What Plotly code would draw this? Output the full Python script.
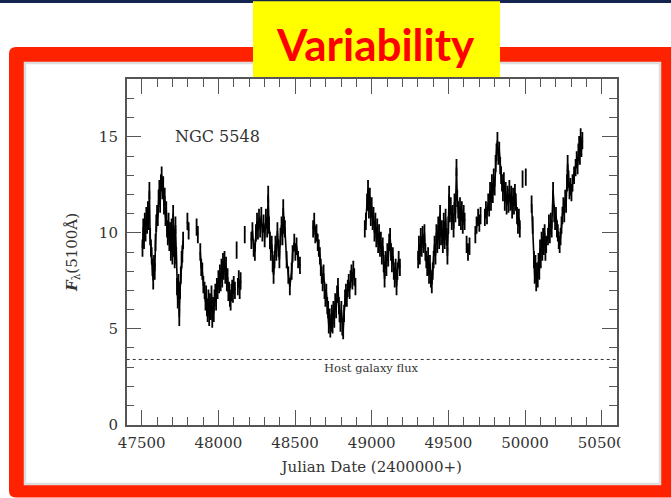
import plotly.graph_objects as go

W, H = 671, 498

# ---------------- data ----------------
jd_s1 = [47505, 47510, 47515, 47520, 47525, 47530, 47535, 47540, 47545, 47550, 47555, 47560, 47565, 47570,
         47575, 47580, 47585, 47590, 47595, 47600, 47605, 47610, 47615, 47620, 47625, 47630, 47635, 47640,
         47645, 47650, 47655, 47660, 47665, 47670, 47675, 47680, 47685, 47690, 47695, 47700, 47705, 47710,
         47715, 47720, 47725, 47730, 47735, 47740, 47745, 47750, 47755, 47760, 47765, 47770]
fx_s1 = [9.2, 10.3, 9.6, 10.6, 10.0, 10.9, 10.4, 11.2, 10.6, 12.2, 9.8, 9.2, 8.8, 8.2,
         7.5, 8.4, 8.0, 9.5, 10.5, 11.0, 10.8, 11.8, 12.3, 11.5, 12.6, 13.0, 12.2, 12.5,
         11.4, 11.9, 10.8, 11.2, 10.2, 9.8, 10.6, 9.5, 10.1, 9.0, 10.3, 8.8, 11.0, 9.2,
         8.6, 10.4, 8.8, 7.2, 6.5, 7.4, 5.6, 7.0, 7.8, 8.6, 8.9, 9.6]

jd_s1b = [47798, 47806]
fx_s1b = [10.6, 10.1]
jd_s1c = [47858, 47866]
fx_s1c = [10.3, 9.9]

jd_s2 = [47882, 47888, 47895, 47902, 47910, 47916, 47920, 47925, 47930, 47935, 47940, 47945, 47950, 47955,
         47960, 47965, 47970, 47975, 47980, 47985, 47990, 47995, 48000, 48005, 48010, 48015, 48020, 48025,
         48030, 48035, 48040, 48045, 48050, 48055, 48060, 48065, 48070, 48075, 48080, 48085, 48090, 48095,
         48100, 48108]
fx_s2 = [9.0, 8.2, 8.0, 7.3, 7.0, 6.4, 6.8, 6.1, 5.8, 6.6, 5.6, 6.4, 5.9, 6.8,
         5.5, 6.2, 5.8, 6.6, 6.9, 6.4, 7.2, 7.0, 7.6, 7.3, 7.9, 7.4, 8.2, 7.6,
         8.5, 8.0, 8.6, 7.8, 8.3, 7.4, 7.7, 6.9, 7.0, 6.6, 6.4, 6.9, 7.1, 6.8,
         7.3, 7.0]
jd_s2b = [48119]
fx_s2b = [9.1]
jd_s2c = [48127, 48133, 48139, 48145]
fx_s2c = [7.2, 7.6, 7.0, 7.5]
jd_s2d = [48172]
fx_s2d = [9.9]

jd_s3 = [48215, 48222, 48230, 48238, 48245, 48252, 48258, 48265, 48272, 48280, 48287, 48295, 48302, 48310,
         48318, 48325, 48330, 48336, 48342, 48348, 48354, 48360, 48366, 48372, 48378, 48385, 48392, 48398,
         48405, 48412, 48418, 48423, 48428, 48434, 48445, 48456, 48466, 48478, 48484, 48495, 48502, 48510,
         48520, 48532]
fx_s3 = [9.6, 10.1, 9.2, 9.0, 10.0, 10.6, 10.1, 10.8, 10.2, 10.9, 10.0, 10.5, 9.7, 10.8,
         10.2, 12.0, 10.4, 9.6, 9.0, 9.4, 8.4, 7.8, 8.6, 9.4, 9.0, 10.1, 9.2, 8.6,
         9.8, 10.4, 9.8, 11.3, 10.4, 10.2, 8.6, 7.8, 7.2, 8.0, 8.9, 9.5, 9.0, 9.3,
         8.6, 8.3]

jd_s4 = [48618, 48625, 48632, 48640, 48648, 48655, 48662, 48668, 48674, 48680, 48686, 48692, 48698, 48704,
         48710, 48716, 48720, 48726, 48730, 48735, 48740, 48745, 48750, 48756, 48762, 48768, 48774, 48780,
         48786, 48790, 48796, 48802, 48808, 48814, 48820, 48826, 48832, 48838, 48844, 48850, 48856, 48862,
         48868, 48874, 48880, 48886, 48894]
fx_s4 = [10.2, 10.6, 9.9, 10.0, 9.5, 9.2, 8.8, 8.2, 7.8, 7.4, 7.9, 7.0, 6.6, 6.9,
         6.2, 6.0, 5.2, 5.6, 5.0, 5.3, 5.8, 5.2, 6.0, 5.5, 6.4, 6.0, 6.8, 7.2,
         6.2, 5.8, 5.3, 6.0, 5.1, 4.9, 5.8, 6.6, 6.9, 6.6, 7.1, 7.4, 7.0, 7.6,
         7.9, 7.5, 8.1, 7.7, 7.2]

jd_s5 = [48955, 48962, 48970, 48976, 48982, 48988, 48994, 49000, 49006, 49012, 49018, 49024, 49030, 49036,
         49042, 49048, 49054, 49060, 49066, 49072, 49078, 49084, 49090, 49096, 49102, 49108, 49114, 49120,
         49126, 49132, 49138, 49144, 49150, 49156, 49162, 49168, 49176, 49184]
fx_s5 = [10.2, 10.6, 11.6, 12.3, 11.2, 11.9, 10.8, 11.4, 10.6, 10.9, 10.0, 10.6, 9.7, 10.3,
         9.4, 10.0, 9.2, 9.6, 8.8, 9.3, 8.4, 7.6, 8.6, 8.2, 9.0, 8.7, 9.5, 9.8,
         9.0, 8.4, 8.8, 8.0, 7.6, 8.2, 7.2, 8.0, 8.6, 8.2]

jd_s6 = [49303, 49308, 49314, 49320, 49326, 49332, 49338, 49344, 49350, 49356, 49362, 49368, 49374, 49380,
         49386, 49392, 49398, 49404, 49410, 49416, 49422, 49428, 49434, 49440, 49446, 49452, 49458, 49464,
         49470, 49476, 49482, 49488, 49494, 49500, 49505, 49510, 49516, 49522, 49528, 49534, 49540, 49546,
         49553, 49558, 49564, 49570, 49576, 49582, 49588, 49594, 49600, 49606]
fx_s6 = [8.6, 9.4, 8.8, 9.8, 9.2, 9.9, 9.4, 10.0, 9.0, 8.6, 8.2, 8.8, 7.8, 8.4,
         7.6, 7.3, 8.0, 8.6, 9.4, 8.8, 10.0, 9.4, 10.4, 9.6, 11.0, 9.8, 10.2, 9.4,
         10.6, 9.6, 10.8, 9.8, 8.8, 10.4, 12.0, 11.0, 11.4, 10.6, 11.0, 10.2, 11.6, 11.0,
         13.4, 11.8, 11.2, 10.8, 11.4, 10.6, 11.2, 10.4, 11.0, 10.6]

jd_s7a = [49619, 49628, 49638]
fx_s7a = [9.4, 9.0, 9.3]
jd_s7b = [49676, 49684, 49694, 49702, 49710]
fx_s7b = [9.9, 10.4, 10.8, 10.5, 10.9]
jd_s7c = [49738, 49745, 49752, 49760, 49766, 49772, 49778, 49784, 49790, 49796, 49802, 49808, 49814, 49820,
          49826, 49832, 49838, 49844, 49850, 49856, 49862, 49868, 49874, 49880, 49886, 49892, 49898, 49904,
          49910, 49916, 49922, 49928, 49934, 49940, 49948, 49954, 49960, 49966]
fx_s7c = [10.8, 11.2, 10.9, 11.6, 11.3, 12.2, 11.6, 12.6, 12.0, 12.9, 12.4, 13.6, 14.2, 14.8,
          14.0, 14.3, 13.5, 13.0, 12.6, 12.1, 12.7, 11.6, 12.2, 11.4, 12.0, 11.5, 12.3, 11.6,
          12.0, 11.2, 11.9, 11.4, 12.1, 11.6, 10.9, 10.4, 10.8, 10.2]
jd_s7d = [49984]
fx_s7d = [12.8]
jd_s7e = [50005]
fx_s7e = [12.9]

jd_s8 = [50043, 50050, 50058, 50063, 50068, 50073, 50078, 50083, 50088, 50093, 50098, 50103, 50108, 50113,
         50118, 50123, 50128, 50133, 50138, 50150, 50156, 50162, 50168, 50174, 50183, 50190, 50196, 50202,
         50208, 50214, 50220, 50226, 50232, 50238, 50244, 50250, 50256, 50262, 50268, 50274, 50278, 50284,
         50290, 50296, 50303, 50310, 50320, 50330, 50337, 50343, 50348, 50353, 50358, 50363, 50368, 50374]
fx_s8 = [11.5, 10.4, 8.6, 7.8, 8.4, 7.4, 8.0, 7.6, 8.5, 8.0, 9.2, 8.6, 9.6, 9.0,
         9.8, 9.3, 10.0, 9.0, 9.4, 9.8, 10.5, 9.9, 10.6, 10.2, 12.2, 11.0, 10.6, 10.9,
         10.2, 10.0, 9.6, 9.4, 9.8, 10.4, 10.9, 11.4, 11.0, 11.8, 11.5, 12.6, 13.6, 12.8,
         12.2, 12.4, 12.1, 12.6, 13.0, 13.4, 13.8, 13.5, 14.2, 14.6, 14.0, 15.0, 14.4, 14.8]

FLUX_ERR = 0.45          # typical 1-sigma flux uncertainty
HOST_FLUX = 3.4          # host galaxy flux level

X_TICKS = [47500, 48000, 48500, 49000, 49500, 50000, 50500]
Y_TICKS = [0, 5, 10, 15]

groups = [(jd_s1, fx_s1), (jd_s1b, fx_s1b), (jd_s1c, fx_s1c), (jd_s2, fx_s2), (jd_s2b, fx_s2b),
          (jd_s2c, fx_s2c), (jd_s2d, fx_s2d), (jd_s3, fx_s3), (jd_s4, fx_s4), (jd_s5, fx_s5),
          (jd_s6, fx_s6), (jd_s7a, fx_s7a), (jd_s7b, fx_s7b), (jd_s7c, fx_s7c), (jd_s7d, fx_s7d),
          (jd_s7e, fx_s7e), (jd_s8, fx_s8)]

jd, flux = [], []
for gx, gy in groups:
    jd += list(gx) + [None]
    flux += list(gy) + [None]

# ---------------- helpers for slide decoration (pixel -> paper) ----------------
def PX(x):
    return x / W

def PY(y):
    return 1 - y / H

def rounded_rect(x0, y0, x1, y1, r):
    pts = [
        f"M{PX(x0 + r)},{PY(y0)}",
        f"L{PX(x1 - r)},{PY(y0)}",
        f"Q{PX(x1)},{PY(y0)} {PX(x1)},{PY(y0 + r)}",
        f"L{PX(x1)},{PY(y1 - r)}",
        f"Q{PX(x1)},{PY(y1)} {PX(x1 - r)},{PY(y1)}",
        f"L{PX(x0 + r)},{PY(y1)}",
        f"Q{PX(x0)},{PY(y1)} {PX(x0)},{PY(y1 - r)}",
        f"L{PX(x0)},{PY(y0 + r)}",
        f"Q{PX(x0)},{PY(y0)} {PX(x0 + r)},{PY(y0)}",
        "Z",
    ]
    return " ".join(pts)

SERIF = "DejaVu Serif"
TXT = "#333333"
AX = "#555555"

fig = go.Figure()
fig.add_trace(go.Scatter(
    x=jd, y=flux, mode="lines",
    line=dict(color="black", width=1.6),
    error_y=dict(type="constant", value=FLUX_ERR, thickness=1.8, width=0, color="black"),
    connectgaps=False, showlegend=False, hoverinfo="skip",
))

axis_common = dict(
    showgrid=False, zeroline=False, showline=True, linecolor=AX, linewidth=1.5,
    mirror="ticks", ticks="inside", tickcolor=AX, tickwidth=1.3, ticklen=15,
    tickfont=dict(family=SERIF, size=15, color=TXT), automargin=False,
)

fig.update_layout(
    width=W, height=H,
    margin=dict(l=0, r=0, t=0, b=0, autoexpand=False),
    paper_bgcolor="white", plot_bgcolor="white",
    xaxis=dict(
        **axis_common,
        domain=[PX(126.7), PX(616.7)],
        range=[47402, 50598],
        tickvals=X_TICKS, ticktext=[str(v) for v in X_TICKS],
        minor=dict(ticks="inside", dtick=100, tick0=47500, ticklen=8, tickwidth=1.3, tickcolor=AX),
        ticklabelstandoff=4,
        title=dict(text="Julian Date (2400000+)", font=dict(family=SERIF, size=15, color=TXT), standoff=10),
    ),
    yaxis=dict(
        **axis_common,
        domain=[PY(424.7), PY(79.3)],
        range=[0, 18],
        tickvals=Y_TICKS, ticktext=[str(v) for v in Y_TICKS],
        minor=dict(ticks="inside", dtick=1, tick0=0, ticklen=8, tickwidth=1.3, tickcolor=AX),
        ticklabelstandoff=4,
        title=dict(text="<b><i>F</i></b><sub>λ</sub>(5100Å)", font=dict(family=SERIF, size=15, color=TXT), standoff=18),
    ),
    shapes=[
        dict(type="rect", xref="paper", yref="paper", x0=0, x1=1, y0=PY(3), y1=1,
             fillcolor="#14264f", line=dict(width=0), layer="below"),
        dict(type="path", xref="paper", yref="paper", path=rounded_rect(9, 47, 690, 497.5, 7),
             fillcolor="#FF2200", line=dict(width=0), layer="below"),
        dict(type="rect", xref="paper", yref="paper", x0=PX(25), x1=PX(660), y0=PY(484), y1=PY(63),
             fillcolor="white", line=dict(color="#dddddd", width=2.5), layer="below"),
        dict(type="rect", xref="paper", yref="paper", x0=PX(253), x1=PX(500), y0=PY(78.5), y1=PY(1.3),
             fillcolor="#FFFF00", line=dict(width=0), layer="below"),
        dict(type="line", xref="x domain", yref="y", x0=0, x1=1, y0=HOST_FLUX, y1=HOST_FLUX,
             line=dict(color="#333333", width=1, dash="dot")),
        dict(type="rect", xref="paper", yref="paper", x0=PX(620.5), x1=PX(652), y0=PY(455), y1=PY(428),
             fillcolor="white", line=dict(width=0), layer="above"),
    ],
    annotations=[
        dict(text="<b>Variability</b>", xref="paper", yref="paper", x=PX(375), y=PY(44),
             xanchor="center", yanchor="middle", showarrow=False,
             font=dict(family="Lato", size=44, color="#FF0000")),
        dict(text="NGC 5548", xref="x", yref="y", x=47702, y=15.0, xanchor="left", yanchor="middle",
             showarrow=False, font=dict(family=SERIF, size=16, color=TXT)),
        dict(text="Host galaxy flux", xref="x", yref="y", x=49000, y=2.95, xanchor="center", yanchor="middle",
             showarrow=False, font=dict(family=SERIF, size=11.5, color=TXT)),
    ],
)

fig.write_html("out.html")
